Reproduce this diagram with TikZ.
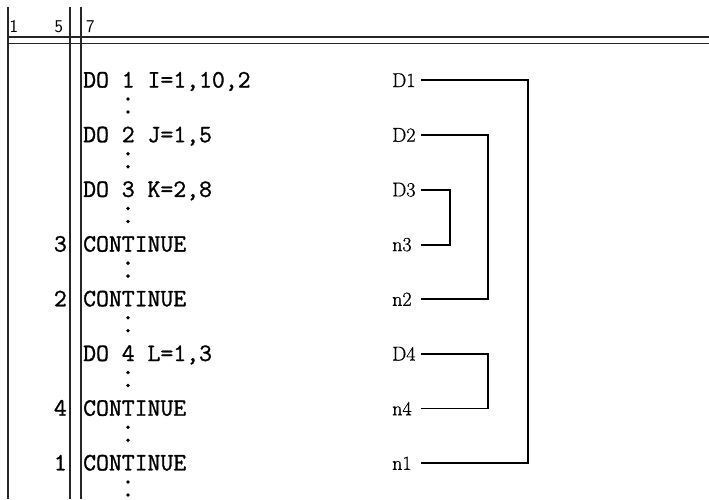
\documentclass[tikz,border=0pt]{standalone}
\usepackage{fontspec}
\setmainfont{Latin Modern Roman}
\setsansfont{Latin Modern Sans}
\setmonofont{Latin Modern Mono}
\newfontfamily\codefont[FakeBold=1.2]{Latin Modern Mono}
\newfontfamily\labfont[FakeBold=0.8]{Latin Modern Roman}
\begin{document}
\begin{tikzpicture}[x=1pt,y=-1pt,
  grid/.style={line width=1.1pt,black!85},
  hgrid/.style={line width=1.4pt,black!85},
  br/.style={line width=1.8pt,black},
  code/.style={inner sep=0pt,anchor=base west,font=\codefont\fontsize{25}{30}\selectfont},
  lno/.style={inner sep=0pt,anchor=base east,font=\codefont\fontsize{25}{30}\selectfont},
  hdr/.style={inner sep=0pt,anchor=base west,font=\sffamily\fontsize{18}{22}\selectfont},
  lab/.style={inner ysep=0pt,inner xsep=2pt,text width=27pt,align=left,anchor=base west,font=\labfont\fontsize{20}{24}\selectfont},
  dot/.style={circle,fill=black,inner sep=0pt,minimum size=3.8pt}]
\useasboundingbox (0,0) rectangle (709,499);
% grid
\draw[grid] (8,7) -- (8,499);
\draw[grid] (70,7) -- (70,499);
\draw[grid] (81,7) -- (81,499);
\draw[hgrid] (8,37) -- (709,37);
\draw[hgrid] (8,43.5) -- (709,43.5);
\node[hdr] (h1) at (9.5,32) {1};
\node[hdr] (h5) at (54.5,32) {5};
\node[hdr] (h7) at (86,32) {7};
% rows: y = 80 + 54.7 i
\node[code] (r0) at (83,87.5) {DO 1 I=1,10,2};
\node[code] (r1) at (83,142.2) {DO 2 J=1,5};
\node[code] (r2) at (83,196.9) {DO 3 K=2,8};
\node[code] (r3) at (83,251.6) {CONTINUE};
\node[code] (r4) at (83,306.3) {CONTINUE};
\node[code] (r5) at (83,361.0) {DO 4 L=1,3};
\node[code] (r6) at (83,415.7) {CONTINUE};
\node[code] (r7) at (83,470.4) {CONTINUE};
\node[lno] (l3) at (67,251.6) {3};
\node[lno] (l2) at (67,306.3) {2};
\node[lno] (l4) at (67,415.7) {4};
\node[lno] (l1) at (67,470.4) {1};
% dots
\foreach \i in {0,...,7}{
  \node[dot] (da\i) at (128,{80+54.7*\i+19}) {};
  \node[dot] (db\i) at (128,{80+54.7*\i+32}) {};
}
% labels
\node[lab] (D1) at (390,87) {D1};
\node[lab] (D2) at (390,141.7) {D2};
\node[lab] (D3) at (390,196.4) {D3};
\node[lab] (n3) at (390,251.1) {n3};
\node[lab] (n2) at (390,305.8) {n2};
\node[lab] (D4) at (390,360.5) {D4};
\node[lab] (n4) at (390,415.2) {n4};
\node[lab] (n1) at (390,469.9) {n1};
\coordinate (b1) at (528,0);
\coordinate (b2) at (488,0);
\coordinate (b3) at (450,0);
\draw[br] (D1.east) -- (D1.east -| b1) -- (n1.east -| b1) -- (n1.east);
\draw[br] (D2.east) -- (D2.east -| b2) -- (n2.east -| b2) -- (n2.east);
\draw[br] (D3.east) -- (D3.east -| b3) -- (n3.east -| b3) -- (n3.east);
\draw[br] (D4.east) -- (D4.east -| b2) -- (n4.east -| b2) -- (n4.east);
\end{tikzpicture}
\end{document}
